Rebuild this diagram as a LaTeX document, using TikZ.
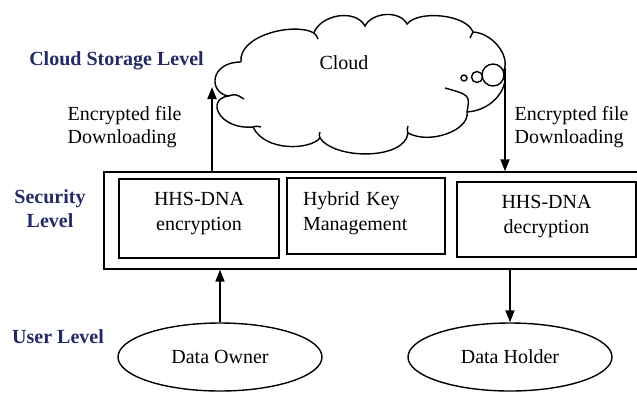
\documentclass[tikz,border=0pt]{standalone}
\usepackage{fontspec}
\setmainfont{Liberation Serif}
\usetikzlibrary{arrows.meta,shapes.geometric}
\definecolor{levelblue}{RGB}{36,42,104}
\tikzset{
  levellabel/.style={font=\bfseries, text=levelblue, align=center, inner sep=0pt},
  modulebox/.style={draw, inner sep=0pt, align=center},
  userellipse/.style={draw, ellipse, minimum width=102pt, minimum height=34pt, inner sep=0pt},
  flowlabel/.style={anchor=west, align=left, inner sep=0pt, font=\fontsize{10}{11.5}\selectfont},
  flow/.style={-{Triangle[length=6pt,width=4.5pt]}, line width=0.9pt},
}
\begin{document}
\begin{tikzpicture}[x=0.5pt, y=-0.5pt, line width=0.7pt, font=\fontsize{10}{12.5}\selectfont]
		\clip (0,0) rectangle (637,393);
		\def\cloudoutline{(241,62) .. controls (238,35) and (295,22) .. (314,33)
			.. controls (320,15) and (355,8) .. (365,26)
			.. controls (372,12) and (400,10) .. (407,24)
			.. controls (418,10) and (466,14) .. (473,32)
			.. controls (492,33) and (510,55) .. (504,70)
			.. controls (510,85) and (495,110) .. (467,112)
			.. controls (470,130) and (430,145) .. (408,133)
			.. controls (405,160) and (335,160) .. (320,138)
			.. controls (310,150) and (265,152) .. (253,127)
			.. controls (220,130) and (205,100) .. (228,96)
			.. controls (208,92) and (210,62) .. (241,62)}
		\draw \cloudoutline;
		\draw (228,96) .. controls (236,94) .. (244,99);
		\draw (253,127) .. controls (256,126) .. (261,127);
		\draw (320,138) .. controls (319,135) .. (320,132);
		\draw (408,133) .. controls (407,130) .. (408,126);
		\draw (467,112) .. controls (470,95) .. (445,88);
		\draw (314,33) .. controls (316,35) .. (318,39);
		\draw (473,32) .. controls (472,35) .. (470,38);
		\draw (464,78) circle (3);
		\draw (477,77) circle (5.5);
		\draw (493,75) circle (11);
		\node (cloudtext) at (344,63) {Cloud};
		\coordinate (cloudin) at (212,87);
		\coordinate (cloudout) at (505,68);

		\node[levellabel] (cloudlevel) at (116.5,61) {Cloud Storage Level};
		\node[levellabel] (seclabel) at (50,209) {Security\\Level};
		\node[levellabel] (userlevel) at (58,337) {User Level};

		\node[draw, minimum width=273pt, minimum height=48.5pt, inner sep=0pt] (seclevel) at (377,220.5) {};
		\node[modulebox, minimum width=80pt, minimum height=39.5pt, text depth=7.3pt] (enc) at (199,218.5) {HHS-DNA\\encryption};
		\node[modulebox, align=left, minimum height=38pt, text width=63pt, inner xsep=8pt, text height=7pt, text depth=18pt] (keymgmt) at (366,216) {Hybrid Key\\Management};
		\node[modulebox, minimum width=89.5pt, minimum height=37.5pt, text depth=5pt] (dec) at (546.5,219.5) {HHS-DNA\\decryption};

		\node[flowlabel] (uplabel) at (67,127) {Encrypted file\\Downloading};
		\node[flowlabel] (downlabel) at (514,127) {Encrypted file\\Downloading};

		\node[userellipse] (owner) at (220,357) {Data Owner};
		\node[userellipse] (holder) at (510,357) {Data Holder};

		\draw[flow] (cloudin |- seclevel.north) -- (cloudin);
		\draw[flow] (cloudout) -- (cloudout |- seclevel.north);
		\draw[flow] (owner.north) -- (owner.north |- seclevel.south);
		\draw[flow] (seclevel.south -| holder.north) -- (holder.north);
\end{tikzpicture}
\end{document}
